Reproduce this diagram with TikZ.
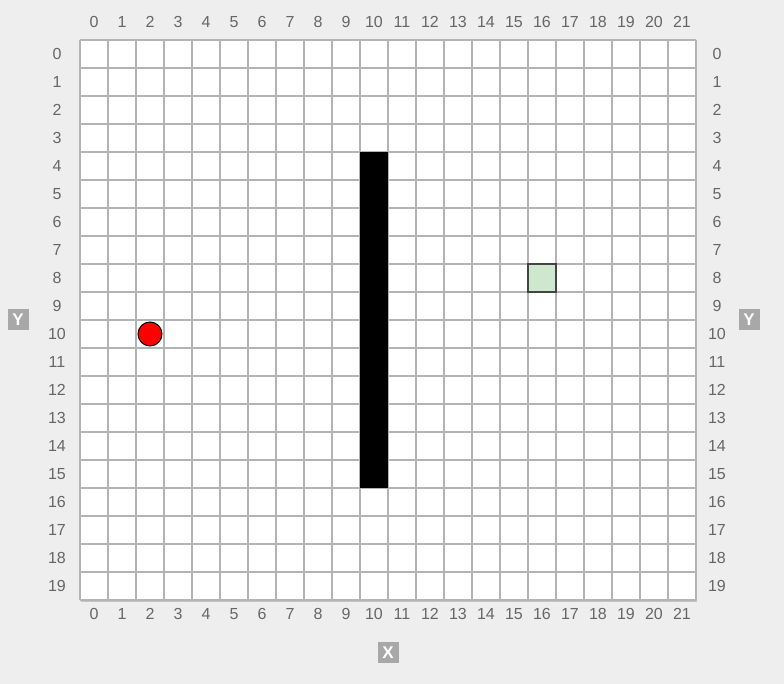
\documentclass[tikz,border=0pt]{standalone}
\usepackage{fontspec}
\setmainfont{Liberation Sans}
\usetikzlibrary{positioning,shadows}
\definecolor{bgcol}{HTML}{EEEEEE}
\definecolor{gridcol}{HTML}{B4B4B4}
\definecolor{labcol}{HTML}{666666}
\definecolor{badgecol}{HTML}{A8A8A8}
\definecolor{goalcol}{HTML}{CFE6CF}
\definecolor{goaledge}{HTML}{444444}

\begin{document}
\begin{tikzpicture}[x=0.5pt, y=-0.5pt]
    \tikzstyle{lab}=[text=labcol, font=\fontsize{8}{9}\selectfont, inner sep=0pt]
    \tikzstyle{badge}=[fill=badgecol, text=white, font=\fontsize{8.5}{9}\selectfont\bfseries, minimum size=10.5pt, inner sep=0pt]
    \tikzstyle{gridline}=[draw=gridcol, line width=1pt]

    % page
    \fill[bgcol] (0,0) rectangle (784,684);
    \useasboundingbox (0,0) rectangle (784,684);

    % board
    \node[draw=none, fill=white, minimum width=308pt, minimum height=280pt, inner sep=0pt,
          drop shadow={shadow xshift=0.6pt, shadow yshift=-0.8pt, opacity=0.4}] (board) at (388,320) {};
    \foreach \i in {0,...,22}
        \draw[gridline] (80+28*\i,40) -- (80+28*\i,600);
    \foreach \j in {0,...,20}
        \draw[gridline] (80,40+28*\j) -- (696,40+28*\j);

    % axis labels
    \foreach \i in {0,...,21} {
        \node[lab] (xt\i) at (94+28*\i,22) {\i};
        \node[lab] (xb\i) at (94+28*\i,614) {\i};
    }
    \foreach \j in {0,...,19} {
        \node[lab] (yl\j) at (57,54+28*\j) {\j};
        \node[lab] (yr\j) at (717,54+28*\j) {\j};
    }
    \node[badge] (ybadgeL) at (18,320) {Y};
    \node[badge] (ybadgeR) at (749,320) {Y};
    \node[badge] (xbadge) at (388,653) {X};

    % wall, goal, agent
    \fill[black] (360,152) rectangle (388,488);
    \node[draw=goaledge, fill=goalcol, line width=1pt, minimum size=14pt, inner sep=0pt] (goal) at (542,278) {};
    \node[circle, draw=black, fill=red, line width=0.5pt, minimum size=12pt, inner sep=0pt] (agent) at (150,334) {};
\end{tikzpicture}
\end{document}
